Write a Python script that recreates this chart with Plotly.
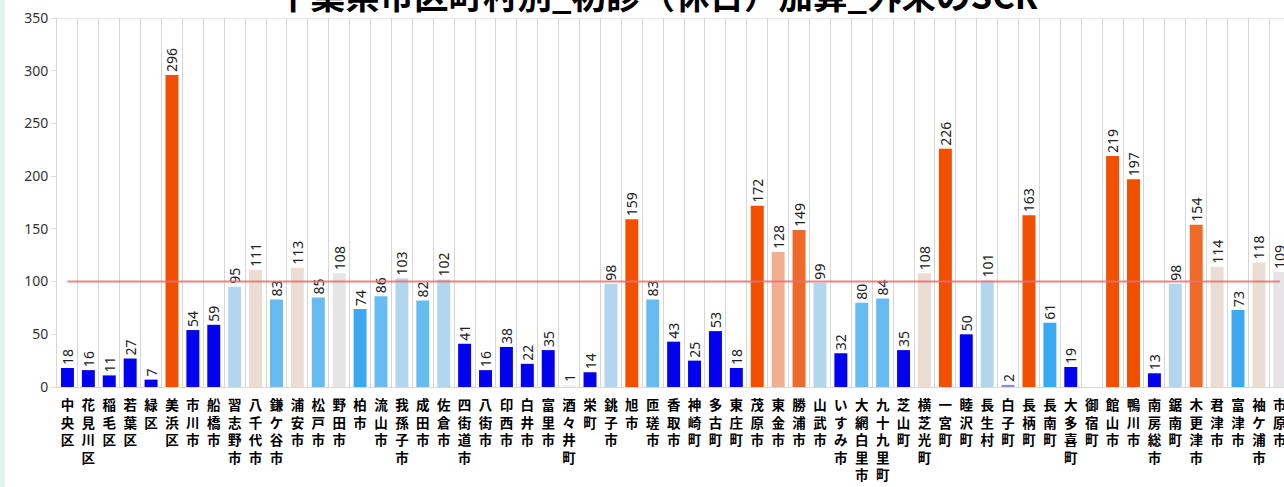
import plotly.graph_objects as go

title_text = "千葉県市区町村別_初診（休日）加算_外来のSCR"

municipalities = [
    "中央区", "花見川区", "稲毛区", "若葉区", "緑区", "美浜区", "市川市", "船橋市",
    "習志野市", "八千代市", "鎌ケ谷市", "浦安市", "松戸市", "野田市", "柏市", "流山市",
    "我孫子市", "成田市", "佐倉市", "四街道市", "八街市", "印西市", "白井市", "富里市",
    "酒々井町", "栄町", "銚子市", "旭市", "匝瑳市", "香取市", "神崎町", "多古町",
    "東庄町", "茂原市", "東金市", "勝浦市", "山武市", "いすみ市", "大網白里市", "九十九里町",
    "芝山町", "横芝光町", "一宮町", "睦沢町", "長生村", "白子町", "長柄町", "長南町",
    "大多喜町", "御宿町", "館山市", "鴨川市", "南房総市", "鋸南町", "木更津市", "君津市",
    "富津市", "袖ケ浦市", "市原市",
]

scr_values = [
    18, 16, 11, 27, 7, 296, 54, 59,
    95, 111, 83, 113, 85, 108, 74, 86,
    103, 82, 102, 41, 16, 38, 22, 35,
    1, 14, 98, 159, 83, 43, 25, 53,
    18, 172, 128, 149, 99, 32, 80, 84,
    35, 108, 226, 50, 101, 2, 163, 61,
    19, None, 219, 197, 13, 98, 154, 114,
    73, 118, 109,
]

reference_value = 100

# colour classes
DB = "#0202EE"
OR = "#F25000"
OR2 = "#EF6A28"
SAL = "#F2AF90"
BEI = "#EBDCD4"
LBEI = "#E6E4E6"
PALE = "#B3D6EF"
LB = "#66BCF0"
MB = "#3AA9F2"
PUR = "#8C8CDC"
WH = "#F2F2F2"

bar_colors = [
    DB, DB, DB, DB, DB, OR, DB, DB,
    PALE, BEI, LB, BEI, LB, LBEI, MB, LB,
    PALE, LB, PALE, DB, DB, DB, DB, DB,
    WH, DB, PALE, OR, LB, DB, DB, DB,
    DB, OR, SAL, OR2, PALE, DB, LB, LB,
    DB, BEI, OR, DB, PALE, PUR, OR, MB,
    DB, WH, OR, OR, DB, PALE, OR2, BEI,
    MB, BEI, LBEI,
]

tick_labels = ["<br>".join(list(name)) for name in municipalities]
value_text = ["" if v is None else str(v) for v in scr_values]

fig = go.Figure()
fig.add_trace(go.Bar(
    x=municipalities,
    y=scr_values,
    marker=dict(color=bar_colors, line=dict(width=0)),
    text=value_text,
    textposition="outside",
    textangle=-90,
    constraintext="none",
    cliponaxis=False,
    textfont=dict(family="Noto Sans", size=14, color="#222222"),
    hoverinfo="x+y",
))
fig.add_trace(go.Scatter(
    x=municipalities,
    y=[reference_value] * len(municipalities),
    mode="lines",
    line=dict(color="rgba(232,110,110,0.85)", width=2),
    hoverinfo="skip",
))

L, T, B = 57, 18, 100
W, H = 1284, 487
plot_w = W - L
plot_h = H - T - B

fig.update_layout(
    width=W, height=H,
    margin=dict(l=L, r=0, t=T, b=B, autoexpand=False),
    paper_bgcolor="white",
    plot_bgcolor="white",
    showlegend=False,
    bargap=0.38,
    font=dict(family="Noto Sans CJK JP", color="#000000"),
    xaxis=dict(
        type="category",
        range=[-0.5, 58.2],
        tickmode="array",
        tickvals=municipalities,
        ticktext=tick_labels,
        tickson="boundaries",
        showgrid=True,
        gridcolor="#D6D6D6",
        gridwidth=1,
        ticks="",
        tickangle=0,
        showline=True,
        linecolor="#D9D9D9",
        tickfont=dict(family="Noto Sans CJK JP", size=13.5, color="#000000", weight="bold"),
        automargin=False,
        ticklabelstandoff=6,
        fixedrange=True,
    ),
    yaxis=dict(
        range=[0, 350],
        dtick=50,
        tick0=0,
        showgrid=False,
        showline=True,
        linecolor="#D6D6D6",
        ticks="outside",
        ticklen=5,
        tickcolor="#DDDDDD",
        tickfont=dict(family="Noto Sans", size=14, color="#333333"),
        automargin=False,
        zeroline=False,
        fixedrange=True,
    ),
    shapes=[
        dict(type="line", xref="paper", yref="y", x0=0, x1=1, y0=350, y1=350,
             line=dict(color="#D6D6D6", width=1)),
        dict(type="rect", xref="paper", yref="paper",
             x0=-L / plot_w, x1=(-L + 5) / plot_w,
             y0=-B / plot_h, y1=1 + T / plot_h,
             fillcolor="#E3F3EE", line=dict(width=0), layer="below"),
    ],
    annotations=[
        dict(text="<b>" + title_text + "</b>", xref="paper", yref="paper",
             x=(657 - L) / plot_w, y=1 + (T + 6) / plot_h,
             xanchor="center", yanchor="middle", showarrow=False,
             font=dict(family="Noto Sans CJK JP", size=34.5, color="#000000")),
    ],
)

fig.write_html(
    "out.html",
    config={"displayModeBar": False},
    post_script="document.body.style.margin='0';document.body.style.overflow='hidden';",
)
